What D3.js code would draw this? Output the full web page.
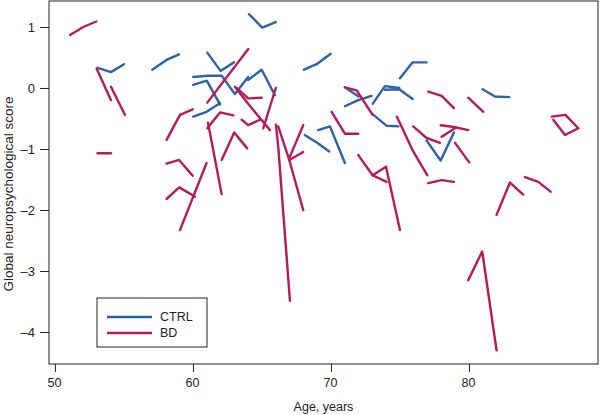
<!DOCTYPE html>
<html><head><meta charset="utf-8">
<script src="https://cdn.jsdelivr.net/npm/d3@7"></script>
<style>
html,body{margin:0;padding:0;background:#fff;}
svg text{font-family:"Liberation Sans Narrow","Arial Narrow","Liberation Sans",sans-serif;fill:#222;}
</style></head>
<body><svg id="c" width="600" height="415"></svg>
<script>
const xTicks = [50, 60, 70, 80];
const yTicks = [1, 0, -1, -2, -3, -4];
const xLabel = "Age, years";
const yLabel = "Global neuropsychological score";
const groups = ["CTRL", "BD"];
const groupColors = ["#2b62a9", "#b8195a"];

const ctrlSubjects = [
  [[53.1,0.33],[54.06,0.26],[55.0,0.39]],
  [[57.05,0.3],[58.09,0.46],[58.99,0.55]],
  [[61.04,0.58],[62.0,0.28],[62.97,0.42]],
  [[64.06,1.21],[65.02,0.99],[66.0,1.08]],
  [[68.04,0.3],[68.96,0.39],[69.98,0.56]],
  [[60.02,0.18],[61.1,0.2],[62.08,0.2]],
  [[62.15,0.18],[63.04,-0.1],[64.0,0.18]],
  [[64.0,0.13],[64.98,0.3],[65.94,-0.12]],
  [[60.02,-0.47],[60.99,-0.39],[61.96,-0.25]],
  [[60.02,0.05],[61.0,0.12],[61.96,-0.27]],
  [[68.1,-0.77],[69.08,-0.91],[69.88,-1.04]],
  [[69.08,-0.69],[69.93,-0.63],[71.01,-1.23]],
  [[71.01,-0.3],[71.98,-0.2],[72.94,-0.13]],
  [[71.01,0.01],[72.0,-0.14]],
  [[73.02,-0.26],[73.91,0.03],[74.95,0.0]],
  [[73.91,-0.03],[74.95,-0.02],[75.92,-0.18]],
  [[73.08,-0.44],[74.04,-0.62],[74.88,-0.63]],
  [[75.0,0.16],[75.92,0.42],[76.93,0.42]],
  [[76.93,-0.86],[77.95,-1.19],[78.91,-0.73]],
  [[80.99,-0.02],[81.88,-0.14],[82.92,-0.15]]
];

const bdSubjects = [
  [[51.1,0.87],[52.05,1.0],[53.0,1.09]],
  [[53.02,0.32],[54.06,-0.2]],
  [[54.06,0.02],[55.07,-0.44]],
  [[53.09,-1.07],[54.06,-1.07]],
  [[58.09,-0.85],[59.06,-0.44],[59.98,-0.35]],
  [[58.09,-1.24],[59.0,-1.18],[59.98,-1.44]],
  [[58.09,-1.82],[59.0,-1.63],[60.14,-1.78]],
  [[59.06,-2.33],[60.99,-1.23]],
  [[61.04,-0.24],[64.01,0.64]],
  [[61.09,-0.57],[62.08,-1.74]],
  [[61.04,-0.66],[61.96,-0.4],[62.93,-0.45]],
  [[62.08,-1.18],[62.99,-0.73],[63.93,-0.99]],
  [[63.17,0.0],[64.0,-0.17],[64.98,-0.16]],
  [[63.04,0.02],[64.0,-0.26],[65.58,-0.69]],
  [[65.1,-0.66],[66.0,0.0]],
  [[63.53,-0.52],[64.0,-0.61],[64.86,-0.52]],
  [[66.01,-0.6],[66.18,-0.96],[67.03,-3.49]],
  [[66.18,-0.63],[66.98,-1.18],[67.99,-2.0]],
  [[66.98,-1.18],[67.99,-1.05]],
  [[66.98,-1.15],[67.99,-0.61]],
  [[70.05,-0.39],[71.01,-0.75],[71.98,-0.75]],
  [[71.01,0.01],[71.86,-0.04],[73.02,-0.44]],
  [[71.98,-1.1],[73.02,-1.43],[74.03,-1.54]],
  [[73.02,-1.43],[73.99,-1.29],[75.0,-2.33]],
  [[74.78,-0.47],[75.96,-1.04],[76.98,-1.43]],
  [[75.96,-0.63],[76.93,-0.82],[77.9,-0.9]],
  [[77.05,-0.06],[78.02,-0.13],[78.91,-0.33]],
  [[77.95,-0.61],[78.91,-0.64],[79.95,-0.69]],
  [[78.02,-0.8],[78.99,-0.66]],
  [[78.99,-0.9],[80.02,-1.22]],
  [[77.05,-1.56],[78.02,-1.51],[78.91,-1.54]],
  [[79.95,-0.16],[81.04,-0.39]],
  [[79.95,-3.15],[80.96,-2.68],[82.0,-4.3]],
  [[82.0,-2.08],[82.97,-1.55],[83.93,-1.75]],
  [[84.06,-1.46],[85.02,-1.54],[85.92,-1.7]],
  [[86.0,-0.47],[86.99,-0.44],[87.92,-0.66]],
  [[86.11,-0.52],[86.96,-0.77],[87.92,-0.66]]
];

const svg = d3.select("#c");
const L = 49, R = 598, T = 1, B = 364;
const x = d3.scaleLinear().domain([49.57, 89.35]).range([L, R]);
const y = d3.scaleLinear().domain([-4.525, 1.426]).range([B, T]);

const line = d3.line().x(d => x(d[0])).y(d => y(d[1]));

const plot = svg.append("g");
[ctrlSubjects, bdSubjects].forEach((subs, gi) => {
  plot.selectAll(null).data(subs).enter().append("path")
    .attr("d", line)
    .attr("fill", "none")
    .attr("stroke", groupColors[gi])
    .attr("stroke-width", 2.4)
    .attr("stroke-linejoin", "round")
    .attr("stroke-linecap", "round");
});

// frame
svg.append("rect").attr("x", L).attr("y", T).attr("width", R - L).attr("height", B - T)
  .attr("fill", "none").attr("stroke", "#222").attr("stroke-width", 1);

// axes
const xAxis = d3.axisBottom(x).tickValues(xTicks).tickSize(8).tickPadding(6).tickFormat(d3.format("d"));
const gx = svg.append("g").attr("transform", `translate(0,${B})`).call(xAxis);
gx.select(".domain").remove();
gx.selectAll("line").attr("stroke", "#222");
gx.selectAll("text").attr("font-size", 12.5).attr("dx", -1).style("fill", "#222");

const yAxis = d3.axisLeft(y).tickValues(yTicks).tickSize(9).tickPadding(5)
  .tickFormat(d => d < 0 ? "\u2013" + Math.abs(d) : String(d));
const gy = svg.append("g").attr("transform", `translate(${L},0)`).call(yAxis);
gy.select(".domain").remove();
gy.selectAll("line").attr("stroke", "#222");
gy.selectAll("text").attr("font-size", 13).style("fill", "#222");

svg.append("text").attr("x", (L + R) / 2).attr("y", 411).attr("text-anchor", "middle")
  .attr("font-size", 12.5).text(xLabel);
svg.append("text").attr("transform", `translate(13,194) rotate(-90)`)
  .attr("text-anchor", "middle").attr("font-size", 13.5).text(yLabel);

// legend
const lg = svg.append("g");
lg.append("rect").attr("x", 97).attr("y", 298).attr("width", 110).attr("height", 49)
  .attr("fill", "#fff").attr("stroke", "#222").attr("stroke-width", 1);
groups.forEach((g, i) => {
  const yy = 317 + i * 16;
  lg.append("line").attr("x1", 107).attr("x2", 152).attr("y1", yy).attr("y2", yy)
    .attr("stroke", groupColors[i]).attr("stroke-width", 2.4);
  lg.append("text").attr("x", 160).attr("y", yy + 4).attr("font-size", 12.5).text(g);
});
</script></body></html>
